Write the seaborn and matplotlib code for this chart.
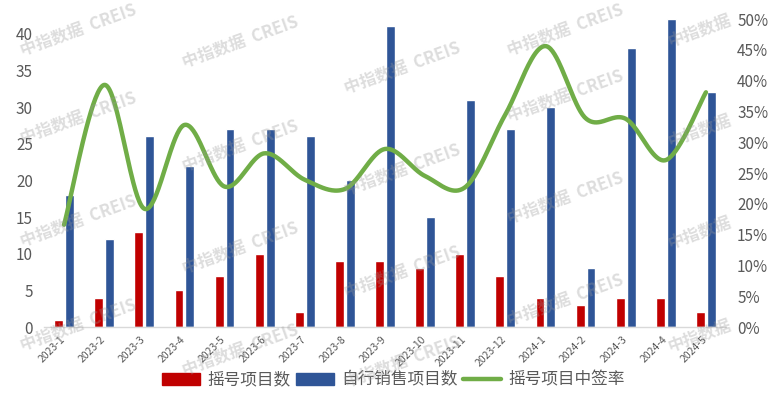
import numpy as np
import pandas as pd
import matplotlib
matplotlib.use("Agg")
import matplotlib.pyplot as plt
import matplotlib.transforms as mtransforms
from matplotlib.patches import Patch
from matplotlib.lines import Line2D
import seaborn as sns

# chart data
months = ["2023-1", "2023-2", "2023-3", "2023-4", "2023-5", "2023-6", "2023-7",
          "2023-8", "2023-9", "2023-10", "2023-11", "2023-12", "2024-1",
          "2024-2", "2024-3", "2024-4", "2024-5"]
lottery_projects = [1, 4, 13, 5, 7, 10, 2, 9, 9, 8, 10, 7, 4, 3, 4, 4, 2]
self_sale_projects = [18, 12, 26, 22, 27, 27, 26, 20, 41, 15, 31, 27, 30, 8, 38, 42, 32]
win_rate = [16.6, 39.3, 19.2, 32.8, 22.8, 28.2, 23.9, 22.4, 28.9, 24.5, 22.7,
            34.5, 45.6, 33.9, 33.8, 27.1, 38.1]

series_names = ["摇号项目数", "自行销售项目数", "摇号项目中签率"]
colors = {"摇号项目数": "#C00000", "自行销售项目数": "#2F5597"}
line_color = "#70AD47"
text_color = "#595959"


def catmull_rom(xs, ys, steps=40):
    """Smooth curve through the points (like an Excel smoothed line)."""
    pts = np.column_stack([xs, ys]).astype(float)
    n = len(pts)
    out = []
    for i in range(n - 1):
        p0 = pts[max(i - 1, 0)]
        p1 = pts[i]
        p2 = pts[i + 1]
        p3 = pts[min(i + 2, n - 1)]
        t = np.linspace(0, 1, steps, endpoint=(i == n - 2))[:, None]
        seg = 0.5 * (2 * p1 + (-p0 + p2) * t
                     + (2 * p0 - 5 * p1 + 4 * p2 - p3) * t ** 2
                     + (-p0 + 3 * p1 - 3 * p2 + p3) * t ** 3)
        out.append(seg)
    out = np.vstack(out)
    return out[:, 0], out[:, 1]


sns.set_theme(style="white")
plt.rcParams["font.family"] = ["Noto Sans CJK SC", "DejaVu Sans"]

df = pd.DataFrame({
    "月份": months * 2,
    "类型": [series_names[0]] * len(months) + [series_names[1]] * len(months),
    "数量": lottery_projects + self_sale_projects,
})

fig = plt.figure(figsize=(7.74, 3.96), dpi=100)
ax = fig.add_axes([44 / 774, 1 - 327 / 396, (726 - 44) / 774, (327 - 19) / 396])

sns.barplot(data=df, x="月份", y="数量", hue="类型", order=months,
            hue_order=series_names[:2], palette=colors, saturation=1,
            width=0.54, gap=0.18, legend=False, ax=ax)

ax.set_ylim(0, 42)
ax.set_yticks(range(0, 41, 5))
ax.set_xlabel("")
ax.set_ylabel("")

# smoothed win-rate line on the secondary axis
ax2 = ax.twinx()
sx, sy = catmull_rom(np.arange(len(months)), win_rate)
sns.lineplot(x=sx, y=sy, ax=ax2, color=line_color, linewidth=3.2,
             sort=False, estimator=None)
ax2.set_ylim(0, 50)
ax2.set_yticks(range(0, 51, 5))
ax2.set_yticklabels([f"{v}%" for v in range(0, 51, 5)])
ax2.set_ylabel("")
ax.set_xlim(-0.5, len(months) - 0.5)

for a in (ax, ax2):
    for s in a.spines.values():
        s.set_visible(False)
    a.tick_params(axis="y", length=0, pad=8, labelsize=11, labelcolor=text_color)
    a.grid(False)
ax.spines["bottom"].set_visible(True)
ax.spines["bottom"].set_color("#d9d9d9")
ax.spines["bottom"].set_linewidth(1)

ax.tick_params(axis="x", length=0, pad=5, labelsize=7.5, labelcolor=text_color)
offset = mtransforms.ScaledTranslation(3 / 100, 0, fig.dpi_scale_trans)
for lbl in ax.get_xticklabels():
    lbl.set_rotation(45)
    lbl.set_ha("right")
    lbl.set_transform(lbl.get_transform() + offset)

# legend
handles = [Patch(color=colors[series_names[0]]),
           Patch(color=colors[series_names[1]]),
           Line2D([], [], color=line_color, linewidth=3.2)]
fig.legend(handles, series_names, loc="center", bbox_to_anchor=(0.508, 0.04),
           ncol=3, frameon=False, fontsize=12, labelcolor=text_color,
           handlelength=2.3, handleheight=0.75, handletextpad=0.4,
           columnspacing=0.35)

# watermark (pixel centres, kept inside the canvas)
wm_cols = [
    (78, [30, 118, 221, 325], "中指数据  CREIS"),
    (240, [42, 146, 248, 350], "中指数据  CREIS"),
    (402, [68, 170, 272, 362], "中指数据  CREIS"),
    (565, [30, 96, 198, 300], "中指数据  CREIS"),
    (700, [30, 130, 232, 335], "中指数据"),
]
for cx, rows, txt in wm_cols:
    for cy in rows:
        fig.text(cx / 774, 1 - cy / 396, txt, rotation=20,
                 ha="center", va="center", fontsize=12, fontweight="bold",
                 color="#999999", alpha=0.33, zorder=10)

fig.savefig("out.png", dpi=100)
